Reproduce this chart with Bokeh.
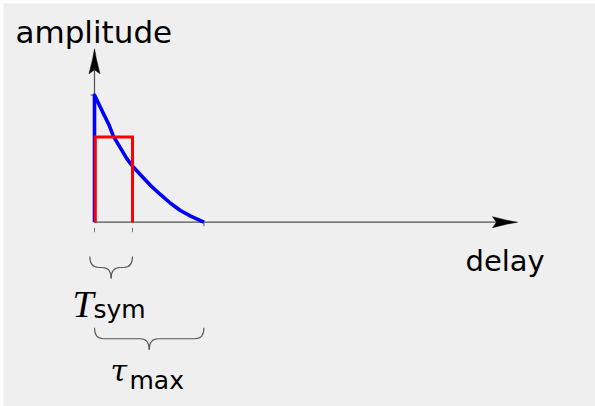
from bokeh.plotting import figure
from bokeh.models import Range1d, ColumnDataSource
from bokeh.core.properties import value
from bokeh.embed import file_html
from bokeh.resources import INLINE

# ---------------- data (delay in units of T_sym, amplitude normalised) -------------
curve_delay = [0.0, 0.12, 0.24, 0.39, 0.49, 0.65, 0.85, 0.99, 1.21, 1.47,
               1.74, 2.0, 2.26, 2.53, 2.79, 2.88]
curve_amp = [1.0, 0.925, 0.85, 0.76, 0.68, 0.60, 0.50, 0.445, 0.373, 0.29,
             0.216, 0.149, 0.092, 0.048, 0.013, 0.0]
T_SYM = 1.0
TAU_MAX = 2.88
RECT_AMP = 0.67
PEAK_AMP = 1.0
dash_ticks = [0.0, T_SYM]
axis_labels = ["amplitude", "delay"]
sym_label = ["T", "sym"]
tau_label = ["τ", "max"]

# ---------------- layout helpers (pixels -> data) ------------------------------
W, H = 595, 406
PAD = 3                       # white rim round the grey panel
SX, SY = 38.0, 127.2          # px per data unit
OX, OY = 94.0, 221.7          # origin in page pixels (from left / top)
TXT_SHIFT = 10                # baseline correction for text glyphs (px)


def dx(px):
    return px / SX


def dy(px):
    return px / SY


def ty(py):
    return dy(OY - py + TXT_SHIFT)


p = figure(width=W, height=H, output_backend="svg", toolbar_location=None,
           x_range=Range1d((PAD - OX) / SX, (W - OX) / SX),
           y_range=Range1d(-(H - OY) / SY, (OY - PAD) / SY),
           min_border=0, min_border_left=PAD, min_border_top=PAD)
p.axis.visible = False
p.grid.visible = False
p.outline_line_color = None
BG = "#efefef"
p.background_fill_color = BG
p.border_fill_color = "white"

AX_COL = "#505050"
x_tip = dx(423)
y_tip = dy(173.4)
HL, HW, NOTCH = 25.0, 5.5, 4.0

# axis lines
p.segment(x0=[0, 0], y0=[0, 0], x1=[x_tip - dx(HL - NOTCH), 0],
          y1=[0, y_tip - dy(HL - NOTCH)], line_color=AX_COL, line_width=1.2)
# arrow heads
p.patch([x_tip, x_tip - dx(10), x_tip - dx(HL), x_tip - dx(HL - NOTCH), x_tip - dx(HL), x_tip - dx(10)],
        [0, dy(1.8), dy(HW), 0, -dy(HW), -dy(1.8)], fill_color="black", line_color="black", line_width=0.5)
p.patch([0, dx(1.8), dx(HW), 0, -dx(HW), -dx(1.8)],
        [y_tip, y_tip - dy(10), y_tip - dy(HL), y_tip - dy(HL - NOTCH), y_tip - dy(HL), y_tip - dy(10)],
        fill_color="black", line_color="black", line_width=0.5)

# ticks
p.segment(x0=dash_ticks, x1=dash_ticks, y0=[-dy(5.6)] * 2, y1=[-dy(10)] * 2,
          line_color="#777777", line_width=1)
p.segment(x0=[TAU_MAX], x1=[TAU_MAX], y0=[0], y1=[-dy(4)], line_color=AX_COL, line_width=1)
p.segment(x0=[-dx(4)], x1=[dx(1)], y0=[PEAK_AMP], y1=[PEAK_AMP], line_color=AX_COL, line_width=1)

# blue power delay profile
p.line([0.0] + curve_delay, [0.0] + curve_amp, line_color="#0000ff", line_width=3.6,
       line_join="round")
# red rectangle
p.line([dx(0.7), dx(0.7), T_SYM, T_SYM], [0, RECT_AMP, RECT_AMP, 0],
       line_color="#ff0000", line_width=3, line_join="miter")


# braces
def brace(xa, xb, y0, col="#555555"):
    h = dy(11)
    r = dx(9)
    xm = (xa + xb) / 2
    src = ColumnDataSource(dict(
        x0=[xa, xm - r, xm, xb - r],
        y0=[y0, y0 - h, y0 - 2 * h, y0 - h],
        x1=[xa + r, xm, xm + r, xb],
        y1=[y0 - h, y0 - 2 * h, y0 - h, y0],
        cx=[xa, xm, xm, xb],
        cy=[y0 - h, y0 - h, y0 - h, y0 - h]))
    p.quadratic(x0="x0", y0="y0", x1="x1", y1="y1", cx="cx", cy="cy", source=src,
                line_color=col, line_width=1.1)
    p.segment(x0=[xa + r, xm + r], x1=[xm - r, xb - r], y0=[y0 - h] * 2, y1=[y0 - h] * 2,
              line_color=col, line_width=1.1)


brace(-dx(4.7), T_SYM, -dy(34.3))
brace(0.0, TAU_MAX, -dy(105.6))

# texts
SANS = value("DejaVu Sans")
p.text(x=[dx(15 - OX)], y=[ty(41.7)], text=[axis_labels[0]], text_font=SANS,
       text_font_size="31px", text_baseline="alphabetic", text_color="black")
p.text(x=[dx(465 - OX)], y=[ty(270)], text=[axis_labels[1]], text_font=SANS,
       text_font_size="29px", text_baseline="alphabetic", text_color="black")
p.text(x=[dx(72 - OX)], y=[ty(313.3)], text=[sym_label[0]], text_font=value("Liberation Serif"),
       text_font_style="italic", text_font_size="38px", text_baseline="alphabetic", text_color="black")
p.text(x=[dx(93 - OX)], y=[ty(319.3)], text=[sym_label[1]], text_font=SANS,
       text_font_size="25px", text_baseline="alphabetic", text_color="black")
p.text(x=[dx(110 - OX)], y=[ty(380)], text=[tau_label[0]], text_font=value("DejaVu Serif"),
       text_font_style="italic", text_font_size="30px", text_baseline="alphabetic", text_color="black")
p.text(x=[dx(129 - OX)], y=[ty(390)], text=[tau_label[1]], text_font=SANS,
       text_font_size="25px", text_baseline="alphabetic", text_color="black")

open("out.html", "w").write(file_html(p, INLINE))
